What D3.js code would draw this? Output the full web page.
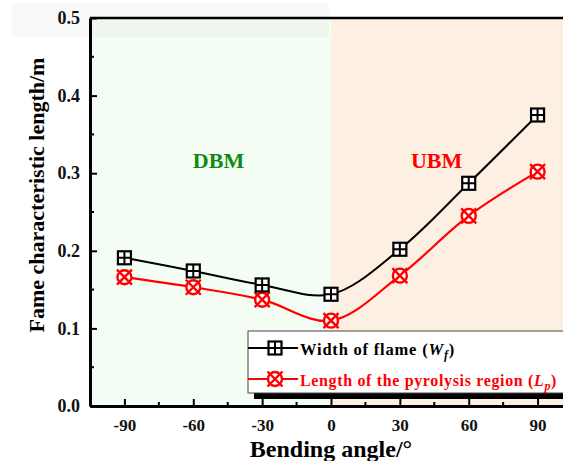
<!DOCTYPE html>
<html>
<head>
<meta charset="utf-8">
<script src="https://cdn.jsdelivr.net/npm/d3@7"></script>
<style>
  html, body { margin: 0; padding: 0; background: #fff; }
  svg { display: block; font-family: "Liberation Serif", "Times New Roman", serif; }
</style>
</head>
<body>
<svg id="chart" width="563" height="461"></svg>
<script>
// Bending angle (degrees) and measured lengths (m)
const angles = [-90, -60, -30, 0, 30, 60, 90];
const widthFlame = [0.191, 0.174, 0.156, 0.144, 0.202, 0.287, 0.375];
const lengthPyro = [0.166, 0.153, 0.137, 0.110, 0.168, 0.245, 0.302];
const xTicks = [-90, -60, -30, 0, 30, 60, 90];
const yTicks = [0.0, 0.1, 0.2, 0.3, 0.4, 0.5];

const svg = d3.select("#chart");
const W = 563, H = 461;
const x = d3.scaleLinear().domain([-105, 105]).range([90, 572]);
const y = d3.scaleLinear().domain([0, 0.5]).range([406, 18]);

// Region shading: downward (DBM) and upward (UBM) bending
svg.append("rect").attr("x", x(-105)).attr("y", y(0.5))
  .attr("width", x(0) - x(-105)).attr("height", y(0) - y(0.5))
  .attr("fill", "#f3fdf4");
svg.append("rect").attr("x", x(0)).attr("y", y(0.5))
  .attr("width", x(105) - x(0)).attr("height", y(0) - y(0.5))
  .attr("fill", "#fdf0e3");
svg.append("rect").attr("x", 12).attr("y", 3).attr("width", 317).attr("height", 34)
  .attr("fill", "#000").attr("fill-opacity", 0.022);

// Region labels
svg.append("text").attr("x", x(-49)).attr("y", 168).attr("text-anchor", "middle")
  .attr("font-size", 22).attr("font-weight", "bold").attr("fill", "#118a11").text("DBM");
svg.append("text").attr("x", x(46)).attr("y", 168).attr("text-anchor", "middle")
  .attr("font-size", 22).attr("font-weight", "bold").attr("fill", "#ff0000").text("UBM");

// Curves
const line = d3.line().x(d => x(d[0])).y(d => y(d[1])).curve(d3.curveCatmullRom.alpha(0.5));
const blackPts = angles.map((a, i) => [a, widthFlame[i]]);
const redPts = angles.map((a, i) => [a, lengthPyro[i]]);
svg.append("path").attr("d", line(redPts)).attr("fill", "none")
  .attr("stroke", "#ff0000").attr("stroke-width", 2.2);
svg.append("path").attr("d", line(blackPts)).attr("fill", "none")
  .attr("stroke", "#000").attr("stroke-width", 2);

// Marker drawing helpers
function squareMarker(g, cx, cy) {
  const s = 6.5;
  g.append("rect").attr("x", cx - s).attr("y", cy - s).attr("width", 2 * s).attr("height", 2 * s)
    .attr("fill", "#fff").attr("stroke", "#000").attr("stroke-width", 2.2);
  g.append("path").attr("d", `M${cx - s},${cy}H${cx + s}M${cx},${cy - s}V${cy + s}`)
    .attr("stroke", "#000").attr("stroke-width", 2);
}
function circleXMarker(g, cx, cy) {
  const r = 7, e = 7.5;
  g.append("circle").attr("cx", cx).attr("cy", cy).attr("r", r)
    .attr("fill", "#fff").attr("stroke", "#ff0000").attr("stroke-width", 2.4);
  g.append("path").attr("d", `M${cx - e},${cy - e}L${cx + e},${cy + e}M${cx - e},${cy + e}L${cx + e},${cy - e}`)
    .attr("stroke", "#ff0000").attr("stroke-width", 2.4);
}
const mg = svg.append("g");
redPts.forEach(p => circleXMarker(mg, x(p[0]), y(p[1])));
blackPts.forEach(p => squareMarker(mg, x(p[0]), y(p[1])));

// Legend with drop shadow
const lx = 248, ly = 331, lh = 62;
svg.append("rect").attr("x", lx + 6).attr("y", ly + 6).attr("width", 400).attr("height", lh)
  .attr("fill", "#000");
svg.append("rect").attr("x", lx).attr("y", ly).attr("width", 400).attr("height", lh)
  .attr("fill", "#fff").attr("stroke", "#444").attr("stroke-width", 1);
const lg = svg.append("g");
lg.append("line").attr("x1", lx).attr("x2", lx + 50).attr("y1", 348).attr("y2", 348)
  .attr("stroke", "#000").attr("stroke-width", 2);
squareMarker(lg, lx + 27, 348);
lg.append("line").attr("x1", lx).attr("x2", lx + 50).attr("y1", 379).attr("y2", 379)
  .attr("stroke", "#ff0000").attr("stroke-width", 2.2);
circleXMarker(lg, lx + 27, 379);
const t1 = lg.append("text").attr("x", 300).attr("y", 355).attr("font-size", 16.5)
  .attr("font-weight", "bold").attr("fill", "#000").attr("letter-spacing", 0.8);
t1.append("tspan").text("Width of flame (");
t1.append("tspan").attr("font-style", "italic").text("W");
t1.append("tspan").attr("font-style", "italic").attr("font-size", 12).attr("dy", 4).text("f");
t1.append("tspan").attr("dy", -4).text(")");
const t2 = lg.append("text").attr("x", 300).attr("y", 386).attr("font-size", 16)
  .attr("font-weight", "bold").attr("fill", "#ff0000").attr("letter-spacing", 0.65);
t2.append("tspan").text("Length of the pyrolysis region (");
t2.append("tspan").attr("font-style", "italic").text("L");
t2.append("tspan").attr("font-style", "italic").attr("font-size", 12).attr("dy", 4).text("p");
t2.append("tspan").attr("dy", -4).text(")");

// Frame and axes
const axW = 3;
svg.append("line").attr("x1", x(-105)).attr("x2", W).attr("y1", y(0.5)).attr("y2", y(0.5))
  .attr("stroke", "#000").attr("stroke-width", 2.5);
const xAxis = svg.append("g").attr("transform", `translate(0,${y(0)})`)
  .call(d3.axisBottom(x).tickValues(xTicks).tickSizeInner(-7).tickSizeOuter(0).tickPadding(13)
    .tickFormat(d => String(d)));
xAxis.select(".domain").attr("stroke-width", axW);
xAxis.selectAll(".tick line").attr("stroke-width", 2);
xAxis.selectAll(".tick text").attr("font-size", 17).attr("font-weight", "bold")
  .attr("font-family", "Liberation Serif, serif").attr("fill", "#111");
const xMinor = d3.range(-105, 106, 15).filter(v => !xTicks.includes(v) && v > -105 && v < 105);
svg.append("g").selectAll("line").data(xMinor).join("line")
  .attr("x1", d => x(d)).attr("x2", d => x(d)).attr("y1", y(0)).attr("y2", y(0) - 4)
  .attr("stroke", "#000").attr("stroke-width", 2);

const yAxis = svg.append("g").attr("transform", `translate(${x(-105)},0)`)
  .call(d3.axisLeft(y).tickValues(yTicks).tickSizeInner(-7).tickSizeOuter(0).tickPadding(10)
    .tickFormat(d3.format(".1f")));
yAxis.select(".domain").attr("stroke-width", axW);
yAxis.selectAll(".tick line").attr("stroke-width", 2);
yAxis.selectAll(".tick text").attr("font-size", 18).attr("font-weight", "bold")
  .attr("font-family", "Liberation Serif, serif").attr("fill", "#111");
const yMinor = [0.05, 0.15, 0.25, 0.35, 0.45];
svg.append("g").selectAll("line").data(yMinor).join("line")
  .attr("x1", x(-105)).attr("x2", x(-105) + 4).attr("y1", d => y(d)).attr("y2", d => y(d))
  .attr("stroke", "#000").attr("stroke-width", 2);

// Axis titles
svg.append("text").attr("x", 331).attr("y", 457).attr("text-anchor", "middle")
  .attr("font-size", 24).attr("font-weight", "bold").attr("fill", "#000").text("Bending angle/°");
svg.append("text").attr("transform", `translate(44,${195}) rotate(-90)`).attr("text-anchor", "middle")
  .attr("font-size", 22).attr("font-weight", "bold").attr("fill", "#000")
  .text("Fame characteristic length/m");
</script>
</body>
</html>
